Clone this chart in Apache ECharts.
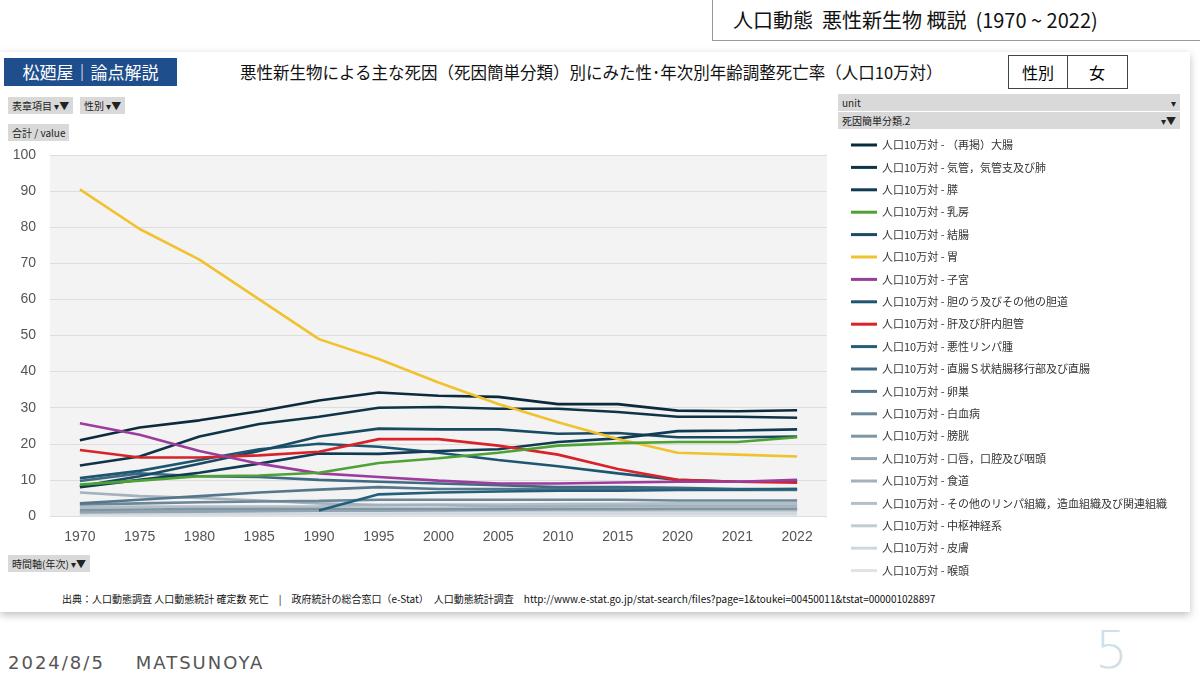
<!DOCTYPE html>
<html><head><meta charset="utf-8">
<script src="https://cdn.jsdelivr.net/npm/echarts@6/dist/echarts.min.js"></script>
<style>
body{margin:0;width:1200px;height:675px;background:#fff;font-family:"Noto Sans CJK JP",sans-serif;position:relative;overflow:hidden}
.abs{position:absolute}
#chart{position:absolute;left:0;top:0;width:1200px;height:675px}
.btn{background:#d9d9d9;font-size:10px;color:#222;padding:1px 4px}
</style></head><body>
<div class="abs" style="left:0;top:52px;width:1190px;height:560px;box-shadow:0 3px 8px rgba(0,0,0,.25);background:#fff"></div>
<div class="abs" style="left:712px;top:0;width:488px;height:40px;border-left:1px solid #999;border-bottom:1px solid #999;font-size:20px;line-height:40px;padding-left:20px;color:#111">人口動態&nbsp; 悪性新生物 概説&nbsp; (1970 ~ 2022)</div>
<div class="abs" style="left:4px;top:58px;width:173px;height:28px;background:#1f4e8c;color:#fff;font-size:17px;line-height:28px;text-align:center">松廼屋｜論点解説</div>
<div class="abs" style="left:240px;top:60px;font-size:16.5px;color:#111">悪性新生物による主な死因（死因簡単分類）別にみた性･年次別年齢調整死亡率（人口10万対）</div>
<div class="abs" style="left:1008px;top:55px;width:118px;height:32px;border:1px solid #444;font-size:16px;line-height:32px"><span style="display:inline-block;width:58px;text-align:center;border-right:1px solid #444">性別</span><span style="display:inline-block;width:58px;text-align:center">女</span></div>
<div class="abs btn" style="left:8px;top:97px">表章項目 ▾▼</div>
<div class="abs btn" style="left:80px;top:97px">性別 ▾▼</div>
<div class="abs btn" style="left:8px;top:124px">合計 / value</div>
<div class="abs btn" style="left:8px;top:555px">時間軸(年次) ▾▼</div>
<div class="abs btn" style="left:838px;top:94px;width:334px">unit<span style="float:right">▾</span></div>
<div class="abs btn" style="left:838px;top:112px;width:334px">死因簡単分類.2<span style="float:right">▾▼</span></div>
<div class="abs" style="left:62px;top:591px;font-size:10px;color:#111">出典：人口動態調査 人口動態統計 確定数 死亡　|　政府統計の総合窓口（e-Stat）　人口動態統計調査　http://www.e-stat.go.jp/stat-search/files?page=1&amp;toukei=00450011&amp;tstat=000001028897</div>
<div class="abs" style="left:8px;top:652px;font-size:18px;color:#555;letter-spacing:2px;font-family:'DejaVu Sans'">2024/8/5&nbsp;&nbsp;&nbsp;&nbsp;MATSUNOYA</div>
<div class="abs" style="left:1095px;top:620px;font-size:52px;color:#cfe0ea;font-family:'DejaVu Sans';font-weight:100">5</div>
<div id="chart"></div>
<script>
var years = ['1970','1975','1980','1985','1990','1995','2000','2005','2010','2015','2020','2021','2022'];
var names = ['（再掲）大腸','気管，気管支及び肺','膵','乳房','結腸','胃','子宮','胆のう及びその他の胆道','肝及び肝内胆管','悪性リンパ腫','直腸Ｓ状結腸移行部及び直腸','卵巣','白血病','膀胱','口唇，口腔及び咽頭','食道','その他のリンパ組織，造血組織及び関連組織','中枢神経系','皮膚','喉頭'];
var colors = ['#0b2a3c','#0f3347','#103b52','#4ea233','#1a4a62','#f2c12e','#9c3c9c','#1d5670','#d8232a','#235f7a','#406a82','#55778c','#6c8798','#8096a5','#93a5b1','#a3b2bc','#b3bfc8','#c2ccd3','#d0d8de','#dde3e7'];
var d_colon = [21,24.5,26.5,29,32,34.2,33.3,33,31,31,29.2,29,29.3];
var d_lung = [14,16.5,22,25.5,27.5,30,30.2,29.7,29.7,28.8,27.5,27.5,27.2];
var d_pancreas = [8,10,12,14.5,17.3,17.2,18,18.5,20.5,21.5,23.5,23.7,24];
var d_breast = [8.7,9.8,11,11.2,12,14.7,16,17.5,19.5,20.2,20.5,20.5,21.8];
var d_colon2 = [8.2,11,14.5,18,22,24.2,24,24,22.8,23,21.8,21.8,22];
var d_stomach = [90.5,79.5,71,60,49,43.5,37,31,26,21.3,17.5,17,16.5];
var d_uterus = [25.7,22.5,18,14.5,11.8,10.8,9.8,9,9,9.3,9.5,9.5,10];
var d_gall = [10.5,12.5,15.5,18.5,20,19.2,17.5,15.5,13.8,11.8,10,9.5,9.5];
var d_liver = [18.3,16.2,16.2,16.8,17.8,21.3,21.3,19.5,17,13,10,9.5,9.2];
var d_lymph = [null,null,null,null,1.5,6,6.5,6.8,7,7,7.2,7.3,7.5];
var d_rectum = [9.7,11.8,11,10.8,10,9.5,9,8.5,8,8,7.8,7.5,7.5];
var d_ovary = [3.5,4.5,5.5,6.5,7.3,8,7.5,7.5,7.5,7.5,7.3,7.2,7.2];
var d_leuk = [3.2,3.5,3.8,4,4.2,4.5,4.5,4.5,4.5,4.5,4.3,4.3,4.3];
var d_bladder = [1.7,1.8,1.9,1.9,2,2,2,2,2,2,2,2,2];
var d_oral = [1,1.1,1.2,1.3,1.5,1.5,1.6,1.7,1.8,1.8,1.9,1.9,1.9];
var d_esoph = [6.5,5.5,5,4.3,3.5,3,3,2.7,2.7,2.8,2.8,2.8,2.8];
var d_otherLymph = [2.5,2.6,2.6,2.6,2.7,3,3.2,3.2,3.3,3.4,3.5,3.5,3.5];
var d_cns = [1.3,1.3,1.4,1.4,1.5,1.5,1.4,1.4,1.4,1.4,1.4,1.4,1.4];
var d_skin = [0.6,0.6,0.6,0.6,0.7,0.7,0.7,0.7,0.7,0.7,0.7,0.7,0.7];
var d_larynx = [0.3,0.3,0.3,0.3,0.3,0.3,0.3,0.3,0.3,0.2,0.2,0.2,0.2];
var allData = [d_colon,d_lung,d_pancreas,d_breast,d_colon2,d_stomach,d_uterus,d_gall,d_liver,d_lymph,d_rectum,d_ovary,d_leuk,d_bladder,d_oral,d_esoph,d_otherLymph,d_cns,d_skin,d_larynx];
var yTicks = [0,10,20,30,40,50,60,70,80,90,100];

var series = [];
for (var i = names.length - 1; i >= 0; i--) {
	series.push({
		name: '人口10万対 - ' + names[i],
		type: 'line',
		data: allData[i],
		symbol: 'none',
		z: (i == 5 || i == 8 || i == 6 || i == 3) ? 5 : 2,
		lineStyle: {width: 2.6, color: colors[i]},
		itemStyle: {color: colors[i]}
	});
}
var myChart = echarts.init(document.getElementById('chart'));
myChart.setOption({
	animation: false,
	grid: {left: 50, right: 373, top: 155, bottom: 159, backgroundColor: '#f3f3f3', show: true, borderWidth: 0},
	legend: {
		orient: 'vertical', left: 846, top: 133, itemWidth: 26, itemHeight: 14, itemGap: 8.4,
		icon: 'path://M0,6 L26,6 L26,9 L0,9 Z',
		textStyle: {fontSize: 11, color: '#333', fontFamily: 'Noto Sans CJK JP', lineHeight: 14, height: 14},
		data: series.map(function(s){return s.name;}).reverse()
	},
	xAxis: {
		type: 'category', data: years, boundaryGap: true,
		axisLine: {show: false}, axisTick: {show: false},
		axisLabel: {fontSize: 14, color: '#555', margin: 14}
	},
	yAxis: {
		type: 'value', min: yTicks[0], max: yTicks[yTicks.length - 1], interval: 10,
		axisLabel: {fontSize: 14, color: '#555', margin: 14},
		splitLine: {lineStyle: {color: '#dedede'}}
	},
	series: series
});
</script>
</body></html>
